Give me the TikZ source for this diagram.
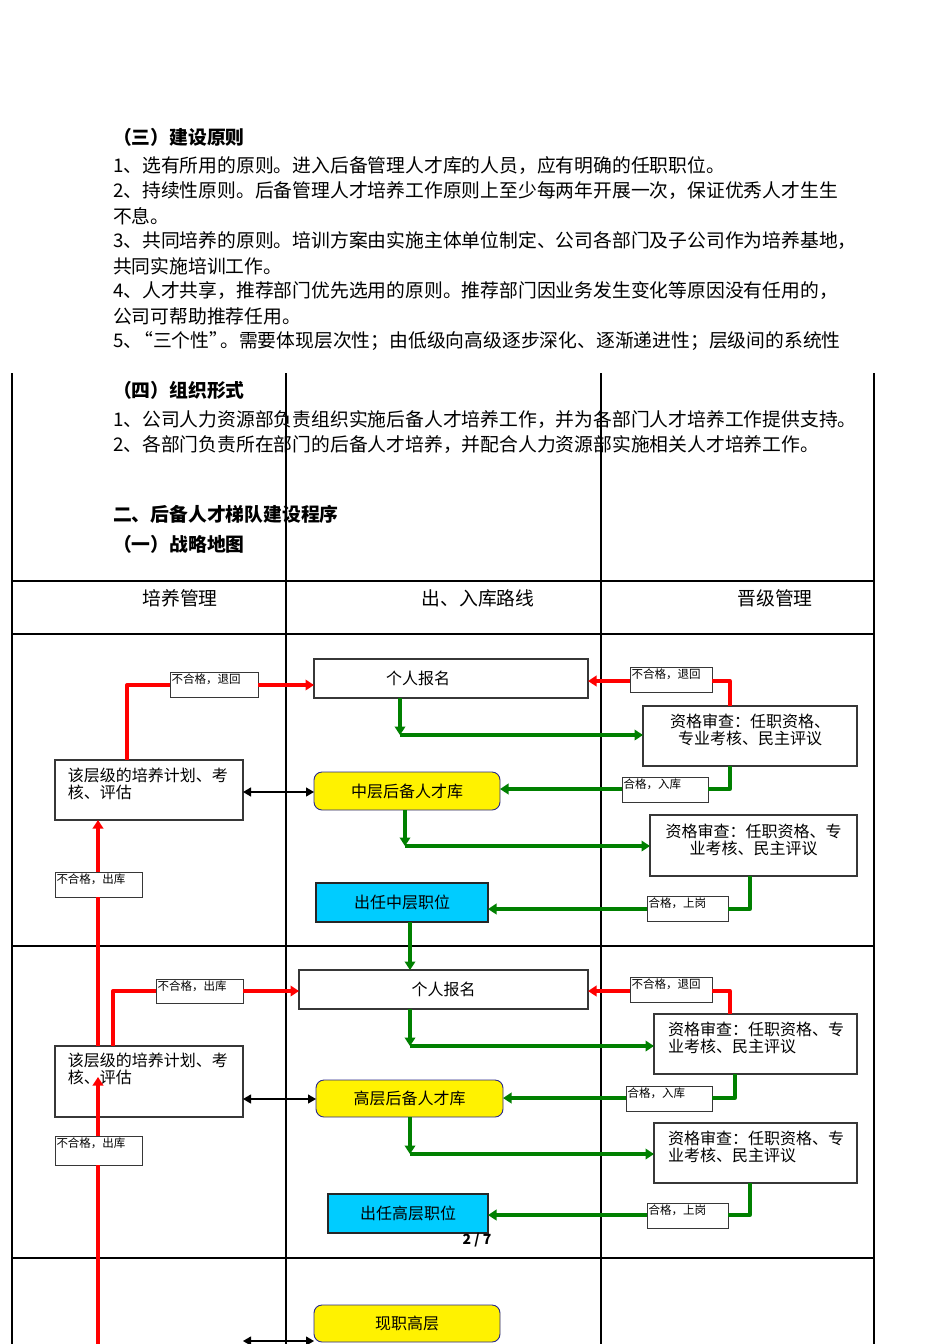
\documentclass[tikz,border=0pt]{standalone}
\usepackage{fontspec}
\setmainfont{Noto Sans CJK SC}
\usetikzlibrary{arrows.meta}
\definecolor{gr}{RGB}{0,128,0}
\definecolor{cy}{RGB}{0,204,255}
\definecolor{nv}{RGB}{40,40,140}
\definecolor{bd}{RGB}{55,55,55}
\newcommand\lbox[5]{\hspace*{#1}\parbox[t][#3][t]{\dimexpr#2-#1\relax}{\raggedright\rule{0pt}{#4}#5}}
\newcommand\cbox[4]{\parbox[t][#2][t]{#1}{\centering\rule{0pt}{#3}#4}}
\tikzset{
  every node/.style={inner sep=0pt, outer sep=0pt},
  para/.style={anchor=west, font=\fontsize{18.8}{22}\selectfont},
  hd/.style={anchor=west, font=\fontsize{18.8}{22}\selectfont\bfseries},
  colhead/.style={font=\fontsize{18.8}{22}\selectfont},
  frame/.style={draw=bd, line width=1.2pt, fill=white, anchor=north west},
  lab/.style={frame, line width=1pt, font=\fontsize{11.5}{12}\selectfont},
  txt/.style={frame, font=\fontsize{16}{17}\selectfont},
  plain/.style={frame, font=\fontsize{16}{17}\selectfont},
  pool/.style={draw=nv, line width=0.9pt, fill=yellow, rounded corners=8pt, anchor=north west, font=\fontsize{16}{17}\selectfont},
  post/.style={draw=black!85, line width=1.2pt, fill=cy, anchor=north west, font=\fontsize{16}{17}\selectfont},
  rl/.style={draw=red, line width=3.3pt, line join=round},
  gl/.style={draw=gr, line width=3.3pt, line join=round},
  ra/.style={rl, -{Triangle[length=8.5pt,width=10.5pt]}},
  ga/.style={gl, -{Triangle[length=8.5pt,width=10.5pt]}},
  ba/.style={draw=black, line width=1.2pt, {Triangle[length=8pt,width=9pt]}-{Triangle[length=8pt,width=9pt]}},
  grid/.style={draw=black, line width=1.1pt},
  gridh/.style={draw=black, line width=2pt}
}
\begin{document}
\begin{tikzpicture}[x=1pt,y=-1pt]
\useasboundingbox (0,0) rectangle (950,1344);
\fill[white] (0,0) rectangle (950,1344);
% table
\draw[grid] (12,373) -- (12,1344);
\draw[grid] (286,373) -- (286,1344);
\draw[grid] (601,373) -- (601,1344);
\draw[grid] (874,373) -- (874,1344);
\draw[gridh] (12,581) -- (874,581);
\draw[gridh] (12,634) -- (874,634);
\draw[gridh] (12,946) -- (874,946);
\draw[gridh] (12,1258) -- (874,1258);
% text
\node[hd] (h1) at (113,137) {（三）建设原则};
\node[para] (t1) at (113,166) {1、选有所用的原则。进入后备管理人才库的人员，应有明确的任职职位。};
\node[para] (t2) at (113,191) {2、持续性原则。后备管理人才培养工作原则上至少每两年开展一次，保证优秀人才生生};
\node[para] (t3) at (113,216) {不息。};
\node[para] (t4) at (113,241) {3、共同培养的原则。培训方案由实施主体单位制定、公司各部门及子公司作为培养基地，};
\node[para] (t5) at (113,266) {共同实施培训工作。};
\node[para] (t6) at (113,291) {4、人才共享，推荐部门优先选用的原则。推荐部门因业务发生变化等原因没有任用的，};
\node[para] (t7) at (113,316) {公司可帮助推荐任用。};
\node[para] (t8) at (113,341) {5、\kern-8pt“三个性”\kern-8pt。需要体现层次性；由低级向高级逐步深化、逐渐递进性；层级间的系统性};
\node[hd] (h2) at (113,390) {（四）组织形式};
\node[para] (t9) at (113,420) {1、公司人力资源部负责组织实施后备人才培养工作，并为各部门人才培养工作提供支持。};
\node[para] (t10) at (113,445) {2、各部门负责所在部门的后备人才培养，并配合人力资源部实施相关人才培养工作。};
\node[hd] (h3) at (113,514) {二、后备人才梯队建设程序};
\node[hd] (h4) at (113,544) {（一）战略地图};
\node[colhead] (k1) at (180,598) {培养管理};
\node[colhead] (k2) at (478,598) {出、入库路线};
\node[colhead] (k3) at (775,598) {晋级管理};
% row 1 nodes
\node[plain, minimum width=274pt, minimum height=39pt] (reg1) at (314,659) {个人报名\hspace*{66pt}};
\node[lab] (lL1) at (170,672) {\lbox{1.5pt}{88pt}{25pt}{11pt}{不合格，退回}};
\node[lab] (lR1) at (630,667) {\lbox{1.5pt}{82pt}{25pt}{11pt}{不合格，退回}};
\node[txt] (q1) at (643,706) {\cbox{214pt}{60pt}{21pt}{资格审查：任职资格、\\专业考核、民主评议}};
\node[txt] (p1) at (55,760) {\lbox{13pt}{188pt}{60pt}{21pt}{该层级的培养计划、考\\核、评估}};
\node[pool, minimum width=186pt, minimum height=38pt] (pool1) at (314,772) {中层后备人才库};
\node[lab] (okA1) at (622,777) {\lbox{1.5pt}{86pt}{25pt}{11pt}{合格，入库}};
\node[txt] (q2) at (650,815) {\cbox{207pt}{61pt}{22pt}{资格审查：任职资格、专\\业考核、民主评议}};
\node[lab] (lL3) at (55,872) {\lbox{1.5pt}{87pt}{25pt}{11pt}{不合格，出库}};
\node[post, minimum width=172pt, minimum height=39pt] (post1) at (316,883) {出任中层职位};
\node[lab] (okB1) at (647,896) {\lbox{1.5pt}{81pt}{25pt}{11pt}{合格，上岗}};
% row 2 nodes
\node[plain, minimum width=289pt, minimum height=39pt] (reg2) at (299,970) {个人报名};
\node[lab] (lL2) at (156,979) {\lbox{1.5pt}{87pt}{24pt}{11pt}{不合格，出库}};
\node[lab] (lR2) at (630,977) {\lbox{1.5pt}{82pt}{25pt}{11pt}{不合格，退回}};
\node[txt] (q3) at (654,1014) {\lbox{14pt}{203pt}{60pt}{21pt}{资格审查：任职资格、专\\业考核、民主评议}};
\node[txt] (p2) at (55,1046) {\lbox{13pt}{188pt}{71pt}{20pt}{该层级的培养计划、考\\核、评估}};
\node[pool, minimum width=187pt, minimum height=37pt] (pool2) at (316,1080) {高层后备人才库};
\node[lab] (okA2) at (626,1086) {\lbox{1.5pt}{86pt}{25pt}{11pt}{合格，入库}};
\node[txt] (q4) at (654,1123) {\lbox{14pt}{203pt}{60pt}{21pt}{资格审查：任职资格、专\\业考核、民主评议}};
\node[lab] (lL4) at (55,1136) {\lbox{1.5pt}{87pt}{29pt}{11pt}{不合格，出库}};
\node[post, minimum width=160pt, minimum height=39pt] (post2) at (328,1194) {出任高层职位};
\node[lab] (okB2) at (647,1203) {\lbox{1.5pt}{81pt}{25pt}{11pt}{合格，上岗}};
\node[font=\fontsize{14}{14}\selectfont\bfseries] (pg) at (477,1240) {2 / 7};
% row 3
\node[pool, minimum width=186pt, minimum height=37pt] (xz) at (314,1305) {现职高层};
% coordinates
\coordinate (r1) at (127,685);
\coordinate (r2) at (730,681);
\coordinate (r3) at (113,991);
\coordinate (r4) at (730,991);
\coordinate (c1) at (400,735);
\coordinate (g2) at (730,789);
\coordinate (g3) at (405,846);
\coordinate (g4) at (750,909);
\coordinate (g5) at (410,946);
\coordinate (g6) at (410,1046);
\coordinate (g7) at (735,1098);
\coordinate (g8) at (410,1154);
\coordinate (g9) at (750,1215);
\coordinate (b1) at (0,792);
\coordinate (b2) at (0,1099);
\coordinate (b3) at (243,1341);
\coordinate (v0) at (98,1344);
\coordinate (v1) at (98,1077);
% red connectors
\draw[rl] (p1.north -| r1) -- (r1) -- (lL1.west |- r1);
\draw[ra] (lL1.east |- r1) -- (reg1.west |- r1);
\draw[rl] (q1.north -| r2) -- (r2) -- (lR1.east |- r2);
\draw[ra] (lR1.west |- r2) -- (reg1.east |- r2);
\draw[rl] (p2.north -| r3) -- (r3) -- (lL2.west |- r3);
\draw[ra] (lL2.east |- r3) -- (reg2.west |- r3);
\draw[rl] (q3.north -| r4) -- (r4) -- (lR2.east |- r4);
\draw[ra] (lR2.west |- r4) -- (reg2.east |- r4);
\draw[rl] (p2.north -| v0) -- (lL3.south -| v0);
\draw[ra] (lL3.north -| v0) -- (p1.south -| v0);
\draw[rl] (v0) -- (lL4.south -| v0);
\draw[ra] (lL4.north -| v0) -- (v1);
% green connectors
\draw[ga] (reg1.south -| c1) -- (c1);
\draw[ga] (c1) -- (q1.west |- c1);
\draw[gl] (q1.south -| g2) -- (g2) -- (okA1.east |- g2);
\draw[ga] (okA1.west |- g2) -- (pool1.east |- g2);
\draw[ga] (pool1.south -| g3) -- (g3);
\draw[ga] (g3) -- (q2.west |- g3);
\draw[gl] (q2.south -| g4) -- (g4) -- (okB1.east |- g4);
\draw[ga] (okB1.west |- g4) -- (post1.east |- g4);
\draw[ga] (post1.south -| g5) -- (reg2.north -| g5);
\draw[ga] (reg2.south -| g6) -- (g6);
\draw[ga] (g6) -- (q3.west |- g6);
\draw[gl] (q3.south -| g7) -- (g7) -- (okA2.east |- g7);
\draw[ga] (okA2.west |- g7) -- (pool2.east |- g7);
\draw[ga] (pool2.south -| g8) -- (g8);
\draw[ga] (g8) -- (q4.west |- g8);
\draw[gl] (q4.south -| g9) -- (g9) -- (okB2.east |- g9);
\draw[ga] (okB2.west |- g9) -- (post2.east |- g9);
% black double arrows
\draw[ba] (p1.east |- b1) -- (pool1.west |- b1);
\draw[ba] (p2.east |- b2) -- (pool2.west |- b2);
\draw[ba] (b3) -- (xz.west |- b3);
\end{tikzpicture}
\end{document}
